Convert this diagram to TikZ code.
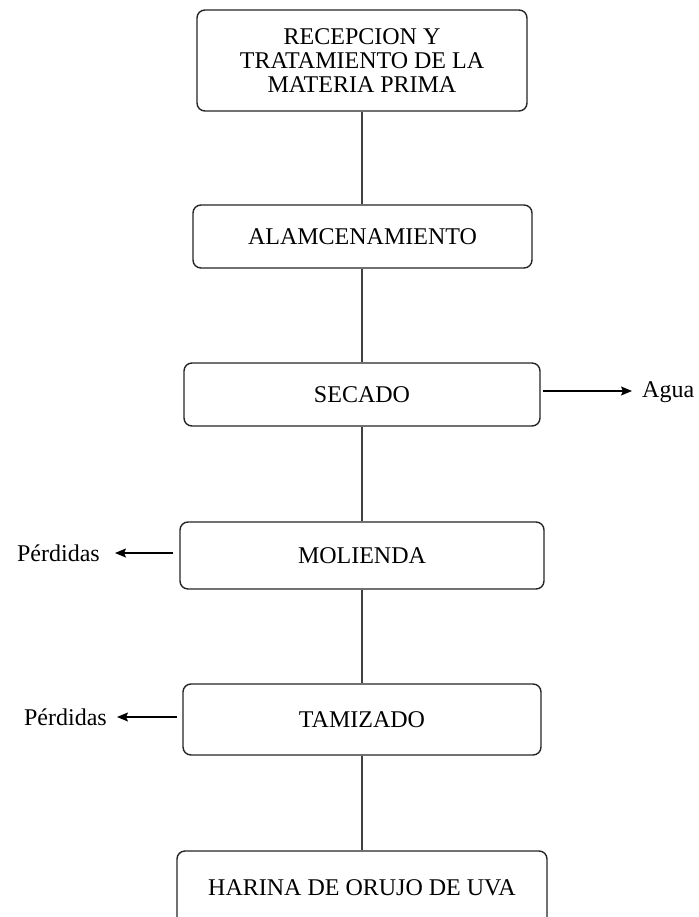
\documentclass[tikz,border=0pt]{standalone}
\usepackage{fontspec}
\setmainfont{Liberation Serif}
\usetikzlibrary{arrows.meta}
\begin{document}
\begin{tikzpicture}[x=1pt,y=-1pt,
  font=\fontsize{24}{24}\selectfont,
  stepbox/.style={draw=black!85, line width=1.4pt, rounded corners=8pt, rectangle, inner sep=0pt, align=center, fill=white},
  link/.style={draw=black!75, line width=1.4pt},
  side/.style={draw=black, line width=1.3pt, -{Stealth[length=11pt,width=9pt,inset=2pt]}},
  lbl/.style={inner sep=0pt}
]
\useasboundingbox (0,0) rectangle (698,917);
\clip (0,0) rectangle (698,917);
\fill[white] (0,0) rectangle (698,917);

\node[stepbox, minimum width=330pt, minimum height=101pt] (b1) at (362,60.5) {RECEPCION Y\\TRATAMIENTO DE LA\\MATERIA PRIMA};
\node[stepbox, minimum width=339pt, minimum height=63pt] (b2) at (362.5,236.5) {ALAMCENAMIENTO};
\node[stepbox, minimum width=356pt, minimum height=63pt] (b3) at (362,394.5) {SECADO};
\node[stepbox, minimum width=364pt, minimum height=67pt] (b4) at (362,555.5) {MOLIENDA};
\node[stepbox, minimum width=358pt, minimum height=71pt] (b5) at (362,719.5) {TAMIZADO};
\node[stepbox, minimum width=370pt, minimum height=74pt] (b6) at (362,888) {HARINA DE ORUJO DE UVA};

\draw[link] (b1.south -| 362,0) -- (b2.north -| 362,0);
\draw[link] (b2.south -| 362,0) -- (b3.north -| 362,0);
\draw[link] (b3.south -| 362,0) -- (b4.north -| 362,0);
\draw[link] (b4.south -| 362,0) -- (b5.north -| 362,0);
\draw[link] (b5.south -| 362,0) -- (b6.north -| 362,0);

\node[lbl, anchor=west] (agua) at (642,392) {Agua};
\node[lbl, anchor=east] (p1) at (100,553) {Pérdidas};
\node[lbl, anchor=east] (p2) at (107,717) {Pérdidas};

\coordinate (a1s) at (543,391);
\coordinate (a1e) at (632,391);
\coordinate (a2s) at (173,553);
\coordinate (a2e) at (115,553);
\coordinate (a3s) at (177,717);
\coordinate (a3e) at (117,717);
\draw[side] (a1s) -- (a1e);
\draw[side] (a2s) -- (a2e);
\draw[side] (a3s) -- (a3e);
\end{tikzpicture}
\end{document}
